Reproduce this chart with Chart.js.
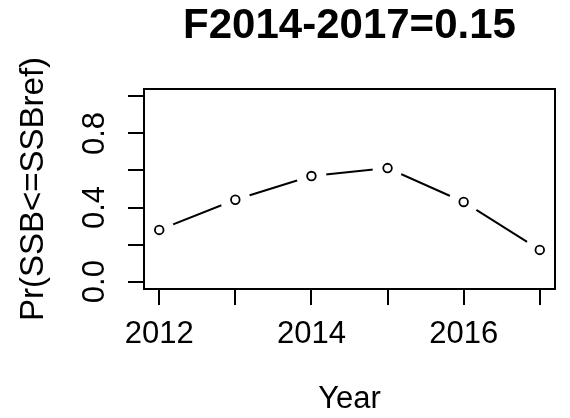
<!DOCTYPE html>
<html>
<head>
<meta charset="utf-8">
<script src="https://cdn.jsdelivr.net/npm/chart.js@4"></script>
<style>
  html, body { margin: 0; padding: 0; background: #fff; }
</style>
</head>
<body>
<canvas id="probChart" width="570" height="418"></canvas>
<script>
const years = [2012, 2013, 2014, 2015, 2016, 2017]
const probBelowRef = [0.279, 0.442, 0.570, 0.613, 0.430, 0.171]
const xTicks = [2012, 2013, 2014, 2015, 2016, 2017]
const xTickLabels = ['2012', '', '2014', '', '2016', '']
const yTicks = [0, 0.2, 0.4, 0.6, 0.8, 1]
const yTickLabels = ['0.0', '', '0.4', '', '0.8', '']

// R style axis limits: 4% extension either side
const xPad = (Math.max(...years) - Math.min(...years)) * 0.04
const yPad = (1 - 0) * 0.04

const points = years.map((yr, i) => ({ x: yr, y: probBelowRef[i] }))

Chart.defaults.font.family = "'Liberation Sans', Arial, sans-serif"
Chart.defaults.color = '#000'

// closed frame round the plot region
const plotBox = {
  id: 'plotBox',
  afterDatasetsDraw(chart) {
    const { ctx, chartArea: a } = chart
    ctx.save()
    ctx.strokeStyle = '#000'
    ctx.lineWidth = 2
    ctx.strokeRect(a.left, a.top, a.right - a.left, a.bottom - a.top)
    ctx.restore()
  }
}

const tickGrid = {
  drawOnChartArea: false,
  drawTicks: true,
  tickLength: 16,
  color: '#000',
  lineWidth: 2
}

new Chart(document.querySelector('#probChart'), {
  type: 'line',
  data: {
    datasets: [
      {
        // open circles
        data: points,
        showLine: false,
        pointRadius: 4.3,
        pointBorderWidth: 1.8,
        pointBorderColor: '#000',
        pointBackgroundColor: '#fff',
        order: 0
      },
      {
        // line, broken round each point like type = "b"
        data: points,
        borderColor: '#000',
        borderWidth: 2,
        pointRadius: 15,
        pointBorderWidth: 0,
        pointBorderColor: 'rgba(0,0,0,0)',
        pointBackgroundColor: '#fff',
        order: 1
      }
    ]
  },
  options: {
    responsive: false,
    animation: false,
    events: [],
    layout: { padding: { left: 0, right: 1, top: 0, bottom: 0 } },
    plugins: {
      legend: { display: false },
      tooltip: { enabled: false },
      title: {
        display: true,
        text: 'F2014-2017=0.15',
        fullSize: false,
        color: '#000',
        font: { size: 42, weight: 'bold' },
        padding: { top: 1.5, bottom: 37.1 }
      }
    },
    scales: {
      x: {
        type: 'linear',
        min: Math.min(...years) - xPad,
        max: Math.max(...years) + xPad,
        afterBuildTicks: s => { s.ticks = xTicks.map(v => ({ value: v })) },
        afterFit: s => { s.height = 129 },
        border: { display: false },
        grid: tickGrid,
        ticks: {
          padding: 11,
          autoSkip: false,
          maxRotation: 0,
          font: { size: 31 },
          callback: (v, i) => xTickLabels[i]
        },
        title: {
          display: true,
          text: 'Year',
          font: { size: 31 },
          padding: { top: 0, bottom: 0 }
        }
      },
      y: {
        min: 0 - yPad,
        max: 1 + yPad,
        afterBuildTicks: s => { s.ticks = yTicks.map(v => ({ value: v })) },
        afterFit: s => { s.width = 144 },
        border: { display: false },
        grid: tickGrid,
        ticks: {
          padding: 11,
          autoSkip: false,
          minRotation: 90,
          maxRotation: 90,
          crossAlign: 'center',
          font: { size: 31 },
          callback: (v, i) => yTickLabels[i]
        },
        title: {
          display: true,
          text: 'Pr(SSB<=SSBref)',
          font: { size: 33 },
          padding: { top: 14, bottom: 0 }
        }
      }
    }
  },
  plugins: [plotBox]
})
</script>
</body>
</html>
